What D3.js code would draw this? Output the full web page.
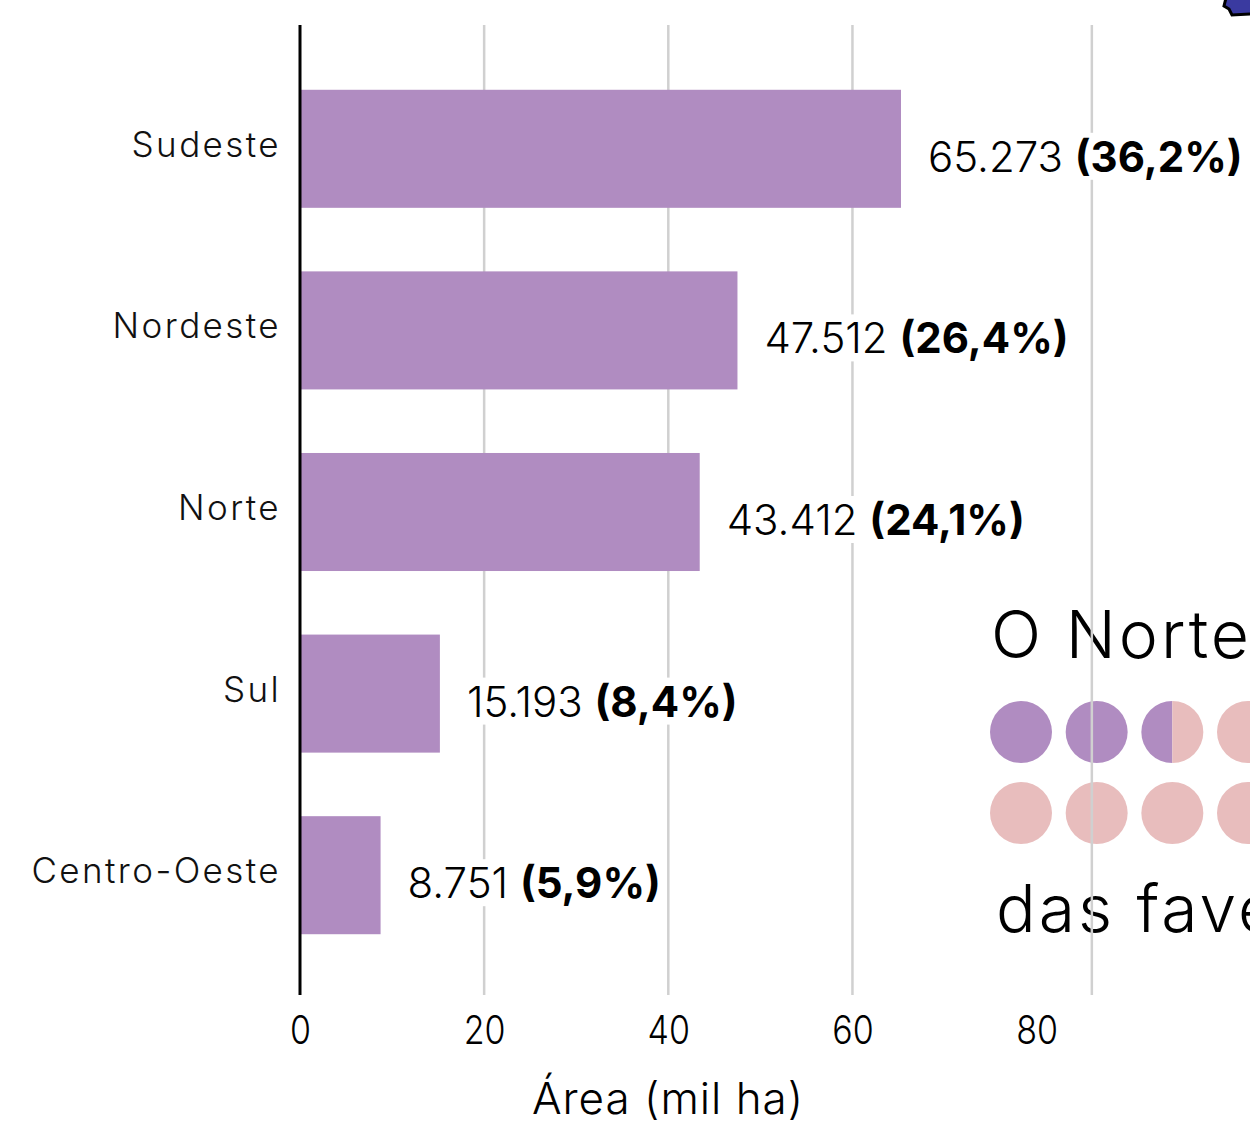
<!DOCTYPE html>
<html>
<head>
<meta charset="utf-8">
<script src="https://cdn.jsdelivr.net/npm/d3@7"></script>
<style>
  html, body { margin: 0; padding: 0; background: #fff; }
  svg { display: block; font-family: "Inter", "Noto Sans", sans-serif; }
</style>
</head>
<body>
<svg id="chart" width="1250" height="1125"></svg>
<script>
// Area of favelas by region (thousand ha) and share of the national total
const regions = ["Sudeste", "Nordeste", "Norte", "Sul", "Centro-Oeste"];
const areas = [65.273, 47.512, 43.412, 15.193, 8.751];
const areaLabels = ["65.273", "47.512", "43.412", "15.193", "8.751"];
const shareLabels = ["(36,2%)", "(26,4%)", "(24,1%)", "(8,4%)", "(5,9%)"];
const tickValues = [0, 20, 40, 60, 80];
const gridValues = [20, 40, 60, 86];
const axisTitle = "Área (mil ha)";

// Side panel: dot share for the North region
const panelTitle = "O Norte";
const panelFooter = "das fave";
const dotFills = [1, 1, 0.5, 0, 0, 0, 0, 0]; // purple fraction per dot

const purple = "#b08cc1";
const pink = "#e8bdbd";

const svg = d3.select("#chart");

const x = d3.scaleLinear().domain([0, 80]).range([300, 1036.6]);
const y = d3.scaleBand().domain(regions).range([58, 966])
  .paddingInner(0.35).paddingOuter(0.175);

// --- side panel (drawn first so the gridlines sit over it)
const panel = svg.append("g");
panel.append("text")
  .attr("x", 991).attr("y", 658)
  .attr("font-size", 66).attr("font-weight", 300)
  .attr("letter-spacing", 3)
  .attr("fill", "#000")
  .text(panelTitle);

const dotX = d3.scalePoint().domain(d3.range(4)).range([1021, 1248]);
const dotY = d3.scalePoint().domain([0, 1]).range([732, 813]);
const r = 31;
dotFills.forEach((f, i) => {
  const cx = dotX(i % 4), cy = dotY(Math.floor(i / 4));
  if (f === 1 || f === 0) {
    panel.append("circle").attr("cx", cx).attr("cy", cy).attr("r", r)
      .attr("fill", f === 1 ? purple : pink);
  } else {
    panel.append("path")
      .attr("d", `M${cx},${cy - r} A${r},${r} 0 0,0 ${cx},${cy + r} Z`)
      .attr("fill", purple);
    panel.append("path")
      .attr("d", `M${cx},${cy - r} A${r},${r} 0 0,1 ${cx},${cy + r} Z`)
      .attr("fill", pink);
  }
});
panel.append("text")
  .attr("x", 996).attr("y", 932)
  .attr("font-size", 66).attr("font-weight", 300)
  .attr("letter-spacing", 3)
  .attr("fill", "#000")
  .text(panelFooter);

// small map fragment in the top corner
svg.append("path")
  .attr("d", "M1228,-2 L1252,-2 L1252,14 L1232,15 L1229,9 L1224,6 L1226,-2 Z")
  .attr("fill", "#3a3aa0").attr("stroke", "#000").attr("stroke-width", 3);

// --- gridlines
svg.append("g").selectAll("line").data(gridValues).join("line")
  .attr("x1", d => x(d)).attr("x2", d => x(d))
  .attr("y1", 25).attr("y2", 995)
  .attr("stroke", "#d0d0d0").attr("stroke-width", 2.5);

// --- bars
svg.append("g").selectAll("rect").data(regions).join("rect")
  .attr("x", x(0))
  .attr("y", d => y(d))
  .attr("width", (d, i) => x(areas[i]) - x(0))
  .attr("height", y.bandwidth())
  .attr("fill", purple);

// --- value labels with white backing
const labels = svg.append("g");
regions.forEach((d, i) => {
  const g = labels.append("g");
  const t = g.append("text")
    .attr("x", x(areas[i]) + 27)
    .attr("y", y(d) + y.bandwidth() / 2 + 23)
    .attr("font-size", 42)
    .attr("fill", "#000");
  t.append("tspan").attr("font-weight", 300).text(areaLabels[i] + " ");
  t.append("tspan").attr("font-weight", 700).text(shareLabels[i]);
  const bb = t.node().getBBox();
  g.insert("rect", "text")
    .attr("x", bb.x - 4).attr("y", bb.y + 2)
    .attr("width", bb.width + 8).attr("height", bb.height - 4)
    .attr("fill", "#fff");
});

// --- category labels
svg.append("g").selectAll("text").data(regions).join("text")
  .attr("x", 281)
  .attr("y", d => y(d) + y.bandwidth() / 2 + 8)
  .attr("text-anchor", "end")
  .attr("font-size", 35)
  .attr("font-weight", 300)
  .attr("letter-spacing", 2.4)
  .attr("fill", "#111")
  .text(d => d);

// --- y axis line
svg.append("line")
  .attr("x1", x(0)).attr("x2", x(0))
  .attr("y1", 25).attr("y2", 995)
  .attr("stroke", "#000").attr("stroke-width", 3);

// --- x axis tick labels
const xAxis = d3.axisBottom(x).tickValues(tickValues).tickSize(0).tickPadding(0);
const ax = svg.append("g").attr("transform", "translate(0,1000)").call(xAxis);
ax.select(".domain").remove();
ax.selectAll("text")
  .attr("font-family", "Inter, sans-serif")
  .attr("font-size", 40)
  .attr("font-weight", 300)
  .attr("fill", "#000")
  .attr("dy", "1.1em")
  .style("transform-box", "fill-box")
  .style("transform-origin", "center")
  .style("transform", "scaleX(0.85)");

svg.append("text")
  .attr("x", 668).attr("y", 1114)
  .attr("text-anchor", "middle")
  .attr("font-size", 44)
  .attr("font-weight", 300)
  .attr("letter-spacing", 1)
  .attr("fill", "#000")
  .text(axisTitle);
</script>
</body>
</html>
